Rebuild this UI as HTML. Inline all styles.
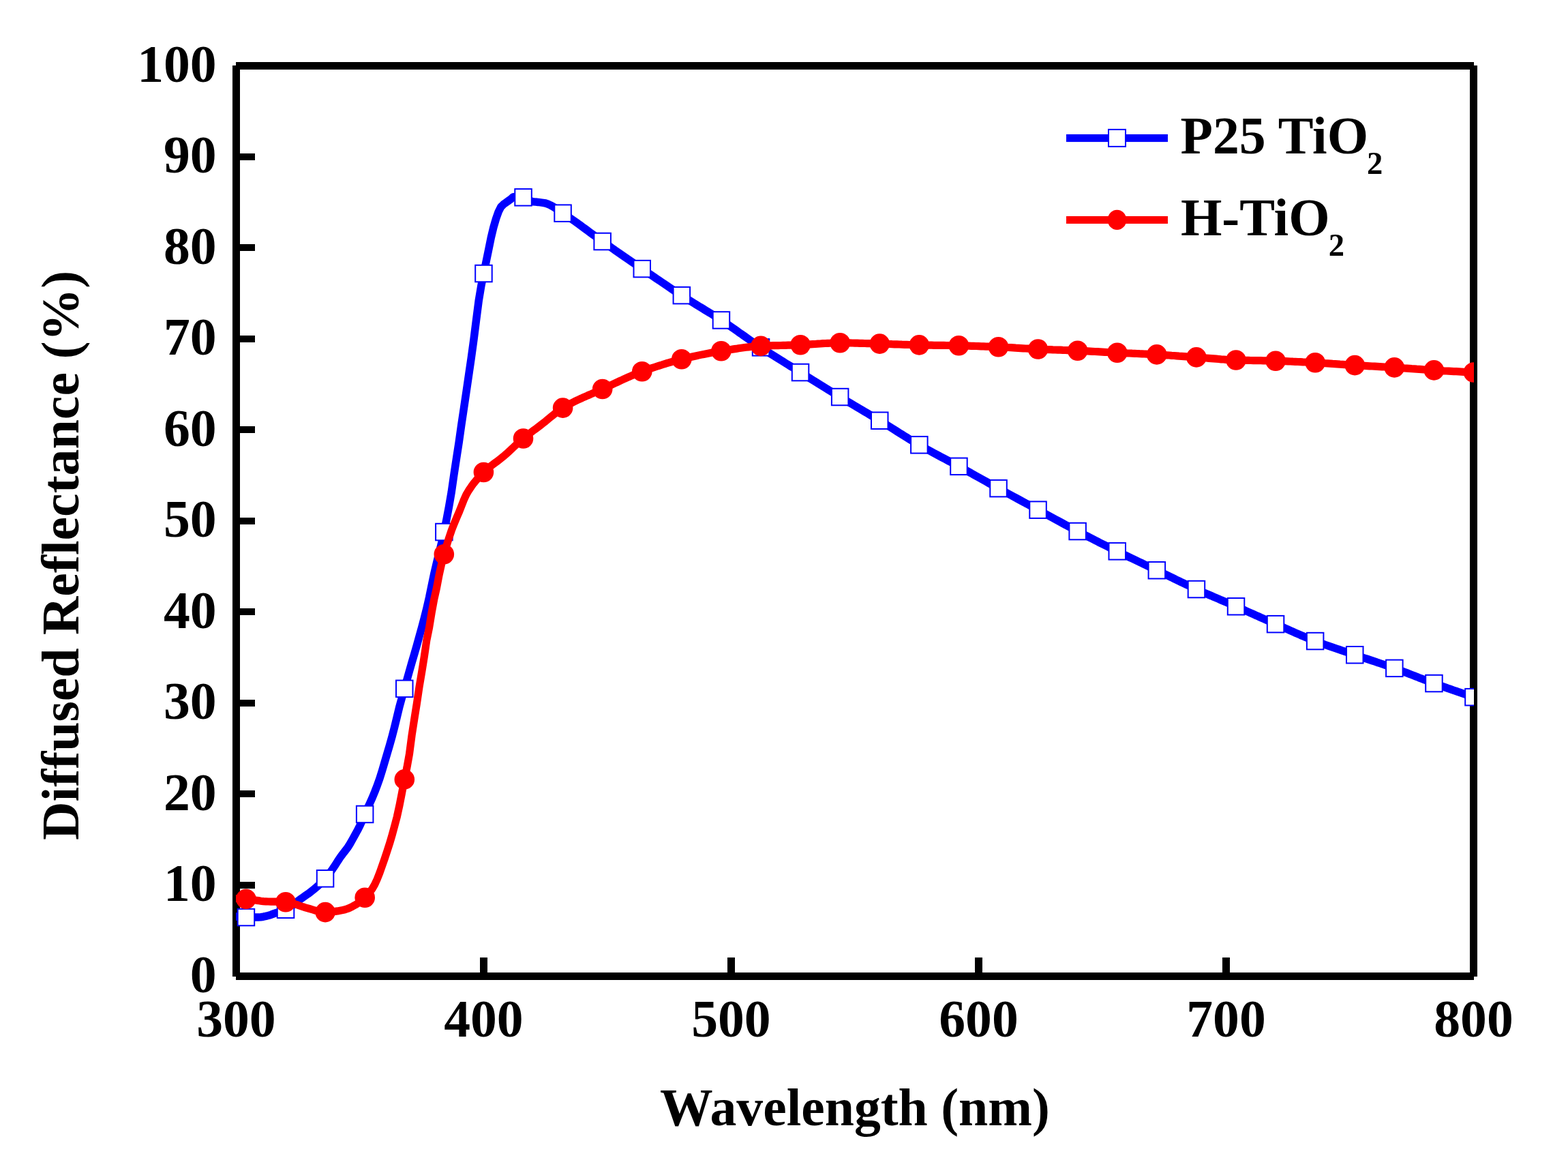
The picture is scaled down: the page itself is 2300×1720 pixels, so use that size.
<!DOCTYPE html>
<html><head><meta charset="utf-8"><title>Diffused Reflectance</title>
<style>html,body{margin:0;padding:0;background:#fff;}svg{display:block;}text{font-family:'Liberation Serif','Times New Roman',serif;font-weight:bold;fill:#000;}</style></head><body>
<svg width="2300" height="1720" viewBox="0 0 2300 1720">
<rect x="0" y="0" width="2300" height="1720" fill="#fff"/>
<g fill="#000" shape-rendering="crispEdges">
<rect x="346" y="91" width="1816" height="11"/>
<rect x="341" y="96" width="11" height="1336"/>
<rect x="346" y="1426" width="1816" height="11"/>
<rect x="2156" y="96" width="11" height="1336"/>
<rect x="351" y="1293" width="23" height="10"/>
<rect x="351" y="1159" width="23" height="10"/>
<rect x="351" y="1026" width="23" height="10"/>
<rect x="351" y="892" width="23" height="10"/>
<rect x="351" y="759" width="23" height="10"/>
<rect x="351" y="625" width="23" height="10"/>
<rect x="351" y="492" width="23" height="10"/>
<rect x="351" y="358" width="23" height="10"/>
<rect x="351" y="225" width="23" height="10"/>
<rect x="704" y="1404" width="11" height="23"/>
<rect x="1067" y="1404" width="11" height="23"/>
<rect x="1430" y="1404" width="11" height="23"/>
<rect x="1793" y="1404" width="11" height="23"/>
</g>
<g font-size="77.7">
<text x="317.7" y="1454.6" text-anchor="end">0</text>
<text x="317.7" y="1321.2" text-anchor="end">10</text>
<text x="317.7" y="1187.7" text-anchor="end">20</text>
<text x="317.7" y="1054.2" text-anchor="end">30</text>
<text x="317.7" y="920.7" text-anchor="end">40</text>
<text x="317.7" y="787.2" text-anchor="end">50</text>
<text x="317.7" y="653.7" text-anchor="end">60</text>
<text x="317.7" y="520.2" text-anchor="end">70</text>
<text x="317.7" y="386.7" text-anchor="end">80</text>
<text x="317.7" y="253.2" text-anchor="end">90</text>
<text x="317.7" y="119.7" text-anchor="end">100</text>
<text x="346.4" y="1520.1" text-anchor="middle">300</text>
<text x="709.4" y="1520.1" text-anchor="middle">400</text>
<text x="1072.4" y="1520.1" text-anchor="middle">500</text>
<text x="1435.5" y="1520.1" text-anchor="middle">600</text>
<text x="1798.5" y="1520.1" text-anchor="middle">700</text>
<text x="2161.5" y="1520.1" text-anchor="middle">800</text>
<text x="1254" y="1650" text-anchor="middle">Wavelength (nm)</text>
<text transform="translate(114.6,814.2) rotate(-90)" x="0" y="0" text-anchor="middle" font-size="77.9">Diffused Reflectance (%)</text>
</g>
<defs><clipPath id="pc"><rect x="346" y="96" width="1816.0" height="1336.0"/></clipPath></defs>
<g clip-path="url(#pc)">
<polyline fill="none" stroke="#0000ff" stroke-width="11.5" stroke-linejoin="round" stroke-linecap="round" points="346.4,1344.0 346.4,1344.0 350.0,1344.4 353.7,1344.7 357.3,1344.9 360.9,1345.0 364.6,1345.0 368.2,1345.0 371.8,1345.0 375.4,1344.9 379.1,1344.9 382.7,1344.7 386.3,1344.2 390.0,1343.4 393.6,1342.5 397.2,1341.4 400.9,1340.0 404.5,1338.8 408.1,1337.6 411.7,1336.5 415.4,1335.2 419.0,1333.7 422.6,1331.8 426.3,1329.4 429.9,1326.8 433.5,1323.9 437.2,1321.1 440.8,1318.4 444.4,1315.8 448.0,1313.3 451.7,1310.8 455.3,1308.1 458.9,1305.3 462.6,1302.3 466.2,1299.1 469.8,1295.7 473.5,1292.1 477.1,1288.2 480.7,1283.9 484.3,1279.1 488.0,1274.1 491.6,1268.8 495.2,1263.0 498.9,1257.4 502.5,1252.5 506.1,1247.9 509.8,1243.1 513.4,1237.4 517.0,1231.0 520.6,1224.4 524.3,1217.8 527.9,1210.7 531.5,1202.6 535.2,1193.9 538.8,1185.9 542.4,1178.1 546.1,1169.9 549.7,1161.1 553.3,1151.7 557.0,1141.4 560.6,1129.9 564.2,1117.6 567.8,1105.3 571.5,1092.9 575.1,1080.0 578.7,1066.1 582.4,1050.8 586.0,1035.9 589.6,1022.7 593.3,1009.9 596.9,996.9 600.5,984.0 604.1,971.4 607.8,958.9 611.4,946.3 615.0,933.3 618.7,920.1 622.3,906.5 625.9,892.1 629.6,876.0 633.2,858.5 636.8,841.3 640.4,825.7 644.1,811.0 647.7,796.1 651.3,780.0 655.0,761.6 658.6,742.7 662.2,721.8 665.9,696.0 669.5,672.3 673.1,649.1 676.7,623.6 680.4,598.9 684.0,574.5 687.6,549.9 691.3,524.5 694.9,498.3 698.5,469.8 702.2,441.0 705.8,419.4 709.4,401.0 713.1,383.6 716.7,366.2 720.3,348.3 723.9,333.3 727.6,320.6 731.2,310.5 734.8,303.4 738.5,299.7 742.1,297.1 745.7,294.5 749.4,291.8 753.0,288.7 756.6,288.5 760.2,288.7 763.9,289.0 767.5,289.4 771.1,290.6 774.8,292.7 778.4,294.7 782.0,295.7 785.7,296.1 789.3,296.4 792.9,296.9 796.5,297.4 800.2,298.0 803.8,299.2 807.4,300.9 811.1,302.9 814.7,305.3 818.3,307.8 822.0,310.3 825.6,312.7 829.2,315.0 832.8,317.4 836.5,319.9 840.1,322.4 843.7,324.9 847.4,327.5 851.0,330.2 854.6,332.8 858.3,335.5 861.9,338.2 865.5,340.9 869.1,343.5 872.8,346.2 876.4,348.8 880.0,351.4 883.7,354.0 887.3,356.5 890.9,359.1 894.6,361.6 898.2,364.1 901.8,366.7 905.5,369.2 909.1,371.7 912.7,374.2 916.3,376.7 920.0,379.2 923.6,381.7 927.2,384.2 930.9,386.7 934.5,389.1 938.1,391.6 941.8,394.1 945.4,396.6 949.0,399.1 952.6,401.5 956.3,404.0 959.9,406.5 963.5,409.0 967.2,411.4 970.8,413.9 974.4,416.3 978.1,418.8 981.7,421.2 985.3,423.7 988.9,426.1 992.6,428.5 996.2,430.8 999.8,433.2 1003.5,435.5 1007.1,437.8 1010.7,440.1 1014.4,442.4 1018.0,444.6 1021.6,446.9 1025.2,449.1 1028.9,451.3 1032.5,453.5 1036.1,455.8 1039.8,458.0 1043.4,460.2 1047.0,462.5 1050.7,464.8 1054.3,467.1 1057.9,469.5 1061.5,471.9 1065.2,474.3 1068.8,476.8 1072.4,479.3 1076.1,481.8 1079.7,484.3 1083.3,486.9 1087.0,489.4 1090.6,492.0 1094.2,494.5 1097.9,497.1 1101.5,499.6 1105.1,502.1 1108.7,504.6 1112.4,507.0 1116.0,509.4 1119.6,511.8 1123.3,514.1 1126.9,516.5 1130.5,518.8 1134.2,521.1 1137.8,523.4 1141.4,525.7 1145.0,527.9 1148.7,530.2 1152.3,532.5 1155.9,534.7 1159.6,537.0 1163.2,539.2 1166.8,541.5 1170.5,543.7 1174.1,546.0 1177.7,548.3 1181.3,550.5 1185.0,552.8 1188.6,555.1 1192.2,557.3 1195.9,559.6 1199.5,561.9 1203.1,564.1 1206.8,566.4 1210.4,568.6 1214.0,570.9 1217.6,573.1 1221.3,575.3 1224.9,577.6 1228.5,579.8 1232.2,582.0 1235.8,584.2 1239.4,586.4 1243.1,588.6 1246.7,590.7 1250.3,592.9 1254.0,595.1 1257.6,597.2 1261.2,599.4 1264.8,601.5 1268.5,603.7 1272.1,605.8 1275.7,608.0 1279.4,610.2 1283.0,612.3 1286.6,614.5 1290.3,616.7 1293.9,618.9 1297.5,621.1 1301.1,623.4 1304.8,625.7 1308.4,627.9 1312.0,630.2 1315.7,632.5 1319.3,634.8 1322.9,637.0 1326.6,639.3 1330.2,641.5 1333.8,643.8 1337.4,646.0 1341.1,648.1 1344.7,650.3 1348.3,652.4 1352.0,654.5 1355.6,656.5 1359.2,658.5 1362.9,660.5 1366.5,662.5 1370.1,664.5 1373.7,666.4 1377.4,668.4 1381.0,670.3 1384.6,672.2 1388.3,674.1 1391.9,676.1 1395.5,678.0 1399.2,680.0 1402.8,681.9 1406.4,683.9 1410.0,685.9 1413.7,687.9 1417.3,689.9 1420.9,691.9 1424.6,693.9 1428.2,696.0 1431.8,698.0 1435.5,700.0 1439.1,702.0 1442.7,704.0 1446.4,706.1 1450.0,708.1 1453.6,710.1 1457.2,712.1 1460.9,714.1 1464.5,716.1 1468.1,718.1 1471.8,720.1 1475.4,722.1 1479.0,724.0 1482.7,726.0 1486.3,728.0 1489.9,729.9 1493.5,731.9 1497.2,733.9 1500.8,735.8 1504.4,737.8 1508.1,739.7 1511.7,741.7 1515.3,743.7 1519.0,745.6 1522.6,747.6 1526.2,749.6 1529.8,751.5 1533.5,753.5 1537.1,755.5 1540.7,757.5 1544.4,759.5 1548.0,761.5 1551.6,763.4 1555.3,765.4 1558.9,767.4 1562.5,769.3 1566.1,771.3 1569.8,773.2 1573.4,775.2 1577.0,777.1 1580.7,779.0 1584.3,780.9 1587.9,782.8 1591.6,784.7 1595.2,786.5 1598.8,788.4 1602.4,790.2 1606.1,792.1 1609.7,793.9 1613.3,795.8 1617.0,797.6 1620.6,799.4 1624.2,801.2 1627.9,803.0 1631.5,804.8 1635.1,806.6 1638.8,808.4 1642.4,810.2 1646.0,811.9 1649.6,813.7 1653.3,815.5 1656.9,817.2 1660.5,818.9 1664.2,820.7 1667.8,822.4 1671.4,824.1 1675.1,825.8 1678.7,827.6 1682.3,829.3 1685.9,831.0 1689.6,832.7 1693.2,834.5 1696.8,836.2 1700.5,837.9 1704.1,839.7 1707.7,841.4 1711.4,843.2 1715.0,845.0 1718.6,846.7 1722.2,848.5 1725.9,850.3 1729.5,852.0 1733.1,853.8 1736.8,855.5 1740.4,857.2 1744.0,858.9 1747.7,860.7 1751.3,862.3 1754.9,864.0 1758.5,865.6 1762.2,867.3 1765.8,868.9 1769.4,870.5 1773.1,872.1 1776.7,873.6 1780.3,875.2 1784.0,876.8 1787.6,878.3 1791.2,879.9 1794.8,881.4 1798.5,883.0 1802.1,884.6 1805.7,886.1 1809.4,887.7 1813.0,889.3 1816.6,890.9 1820.3,892.5 1823.9,894.1 1827.5,895.7 1831.2,897.4 1834.8,899.0 1838.4,900.6 1842.0,902.2 1845.7,903.8 1849.3,905.5 1852.9,907.1 1856.6,908.7 1860.2,910.3 1863.8,911.9 1867.5,913.5 1871.1,915.1 1874.7,916.7 1878.3,918.3 1882.0,919.9 1885.6,921.5 1889.2,923.1 1892.9,924.7 1896.5,926.3 1900.1,927.9 1903.8,929.5 1907.4,931.1 1911.0,932.6 1914.6,934.2 1918.3,935.7 1921.9,937.1 1925.5,938.6 1929.2,940.0 1932.8,941.4 1936.4,942.7 1940.1,944.1 1943.7,945.4 1947.3,946.6 1950.9,947.9 1954.6,949.2 1958.2,950.4 1961.8,951.6 1965.5,952.8 1969.1,954.1 1972.7,955.3 1976.4,956.5 1980.0,957.7 1983.6,959.0 1987.3,960.2 1990.9,961.4 1994.5,962.7 1998.1,963.9 2001.8,965.1 2005.4,966.3 2009.0,967.5 2012.7,968.7 2016.3,969.9 2019.9,971.2 2023.6,972.4 2027.2,973.6 2030.8,974.8 2034.4,976.1 2038.1,977.3 2041.7,978.6 2045.3,979.9 2049.0,981.2 2052.6,982.6 2056.2,983.9 2059.9,985.3 2063.5,986.7 2067.1,988.1 2070.7,989.5 2074.4,990.9 2078.0,992.3 2081.6,993.8 2085.3,995.2 2088.9,996.6 2092.5,997.9 2096.2,999.3 2099.8,1000.7 2103.4,1002.0 2107.0,1003.3 2110.7,1004.6 2114.3,1005.9 2117.9,1007.2 2121.6,1008.5 2125.2,1009.8 2128.8,1011.0 2132.5,1012.3 2136.1,1013.5 2139.7,1014.8 2143.3,1016.0 2147.0,1017.3 2150.6,1018.5 2154.2,1019.7 2157.9,1020.9 2161.5,1022.1"/>
<g fill="#fff" stroke="#0000ff" stroke-width="2">
<rect x="348.7" y="1332.8" width="24.5" height="24.5"/>
<rect x="406.8" y="1321.5" width="24.5" height="24.5"/>
<rect x="464.8" y="1276.0" width="24.5" height="24.5"/>
<rect x="522.9" y="1181.7" width="24.5" height="24.5"/>
<rect x="581.0" y="997.6" width="24.5" height="24.5"/>
<rect x="639.1" y="767.8" width="24.5" height="24.5"/>
<rect x="697.2" y="388.8" width="24.5" height="24.5"/>
<rect x="755.3" y="277.1" width="24.5" height="24.5"/>
<rect x="813.3" y="300.4" width="24.5" height="24.5"/>
<rect x="871.4" y="341.8" width="24.5" height="24.5"/>
<rect x="929.5" y="381.9" width="24.5" height="24.5"/>
<rect x="987.6" y="420.9" width="24.5" height="24.5"/>
<rect x="1045.7" y="457.2" width="24.5" height="24.5"/>
<rect x="1103.8" y="497.1" width="24.5" height="24.5"/>
<rect x="1161.8" y="533.8" width="24.5" height="24.5"/>
<rect x="1219.9" y="569.8" width="24.5" height="24.5"/>
<rect x="1278.0" y="604.5" width="24.5" height="24.5"/>
<rect x="1336.1" y="640.1" width="24.5" height="24.5"/>
<rect x="1394.2" y="671.6" width="24.5" height="24.5"/>
<rect x="1452.3" y="703.9" width="24.5" height="24.5"/>
<rect x="1510.3" y="735.4" width="24.5" height="24.5"/>
<rect x="1568.4" y="766.8" width="24.5" height="24.5"/>
<rect x="1626.5" y="796.1" width="24.5" height="24.5"/>
<rect x="1684.6" y="824.0" width="24.5" height="24.5"/>
<rect x="1742.7" y="851.8" width="24.5" height="24.5"/>
<rect x="1800.8" y="877.0" width="24.5" height="24.5"/>
<rect x="1858.8" y="902.9" width="24.5" height="24.5"/>
<rect x="1916.9" y="927.8" width="24.5" height="24.5"/>
<rect x="1975.0" y="948.0" width="24.5" height="24.5"/>
<rect x="2033.1" y="967.6" width="24.5" height="24.5"/>
<rect x="2091.2" y="989.8" width="24.5" height="24.5"/>
<rect x="2149.2" y="1009.9" width="24.5" height="24.5"/>
</g>
<polyline fill="none" stroke="#ff0000" stroke-width="11.2" stroke-linejoin="round" stroke-linecap="round" points="346.4,1317.5 346.4,1317.5 350.0,1317.6 353.7,1317.8 357.3,1318.0 360.9,1318.2 364.6,1318.5 368.2,1319.0 371.8,1319.5 375.4,1320.1 379.1,1320.6 382.7,1321.2 386.3,1321.6 390.0,1321.8 393.6,1322.0 397.2,1322.1 400.9,1322.2 404.5,1322.2 408.1,1322.3 411.7,1322.4 415.4,1322.5 419.0,1322.7 422.6,1323.1 426.3,1323.8 429.9,1324.8 433.5,1326.0 437.2,1327.2 440.8,1328.5 444.4,1329.7 448.0,1330.8 451.7,1331.8 455.3,1332.9 458.9,1334.0 462.6,1335.1 466.2,1336.1 469.8,1336.9 473.5,1337.4 477.1,1337.6 480.7,1337.5 484.3,1337.3 488.0,1336.9 491.6,1336.4 495.2,1335.9 498.9,1335.2 502.5,1334.5 506.1,1333.7 509.8,1332.5 513.4,1331.0 517.0,1329.2 520.6,1327.2 524.3,1324.9 527.9,1322.3 531.5,1319.4 535.2,1316.2 538.8,1312.6 542.4,1308.2 546.1,1303.1 549.7,1296.9 553.3,1289.0 557.0,1279.6 560.6,1269.4 564.2,1259.1 567.8,1248.3 571.5,1236.8 575.1,1224.6 578.7,1211.4 582.4,1197.3 586.0,1180.7 589.6,1162.3 593.3,1142.9 596.9,1125.4 600.5,1105.5 604.1,1078.0 607.8,1054.2 611.4,1031.5 615.0,1007.2 618.7,985.3 622.3,962.9 625.9,938.3 629.6,920.1 633.2,898.0 636.8,878.4 640.4,862.5 644.1,843.0 647.7,826.8 651.3,812.7 655.0,800.2 658.6,788.7 662.2,778.1 665.9,768.5 669.5,759.9 673.1,751.6 676.7,742.5 680.4,733.0 684.0,725.1 687.6,719.0 691.3,713.6 694.9,708.6 698.5,704.2 702.2,700.0 705.8,696.2 709.4,692.5 713.1,689.1 716.7,686.0 720.3,683.1 723.9,680.3 727.6,677.7 731.2,675.0 734.8,672.2 738.5,669.2 742.1,666.1 745.7,662.8 749.4,659.4 753.0,656.0 756.6,652.7 760.2,649.3 763.9,646.1 767.5,643.0 771.1,640.0 774.8,637.2 778.4,634.4 782.0,631.6 785.7,628.9 789.3,626.2 792.9,623.5 796.5,620.7 800.2,617.8 803.8,614.8 807.4,611.8 811.1,608.8 814.7,605.9 818.3,603.1 822.0,600.5 825.6,598.1 829.2,596.0 832.8,593.9 836.5,592.0 840.1,590.1 843.7,588.3 847.4,586.5 851.0,584.9 854.6,583.2 858.3,581.6 861.9,580.0 865.5,578.5 869.1,576.9 872.8,575.3 876.4,573.8 880.0,572.1 883.7,570.5 887.3,568.8 890.9,567.1 894.6,565.4 898.2,563.7 901.8,562.0 905.5,560.3 909.1,558.6 912.7,557.0 916.3,555.3 920.0,553.7 923.6,552.1 927.2,550.5 930.9,549.0 934.5,547.6 938.1,546.2 941.8,544.8 945.4,543.5 949.0,542.2 952.6,540.9 956.3,539.7 959.9,538.5 963.5,537.3 967.2,536.1 970.8,535.0 974.4,533.8 978.1,532.7 981.7,531.7 985.3,530.6 988.9,529.6 992.6,528.7 996.2,527.7 999.8,526.8 1003.5,525.9 1007.1,525.0 1010.7,524.2 1014.4,523.3 1018.0,522.5 1021.6,521.7 1025.2,520.9 1028.9,520.1 1032.5,519.4 1036.1,518.7 1039.8,518.0 1043.4,517.3 1047.0,516.6 1050.7,516.0 1054.3,515.4 1057.9,514.8 1061.5,514.2 1065.2,513.6 1068.8,513.1 1072.4,512.5 1076.1,511.9 1079.7,511.4 1083.3,510.8 1087.0,510.3 1090.6,509.8 1094.2,509.3 1097.9,508.9 1101.5,508.5 1105.1,508.2 1108.7,507.9 1112.4,507.6 1116.0,507.4 1119.6,507.2 1123.3,507.1 1126.9,507.0 1130.5,506.8 1134.2,506.7 1137.8,506.6 1141.4,506.6 1145.0,506.5 1148.7,506.4 1152.3,506.3 1155.9,506.2 1159.6,506.1 1163.2,506.0 1166.8,505.9 1170.5,505.8 1174.1,505.7 1177.7,505.5 1181.3,505.4 1185.0,505.2 1188.6,504.9 1192.2,504.7 1195.9,504.5 1199.5,504.2 1203.1,504.0 1206.8,503.7 1210.4,503.5 1214.0,503.3 1217.6,503.2 1221.3,503.0 1224.9,502.9 1228.5,502.8 1232.2,502.8 1235.8,502.8 1239.4,502.8 1243.1,502.9 1246.7,502.9 1250.3,503.0 1254.0,503.1 1257.6,503.2 1261.2,503.3 1264.8,503.4 1268.5,503.5 1272.1,503.6 1275.7,503.7 1279.4,503.8 1283.0,503.9 1286.6,504.0 1290.3,504.1 1293.9,504.2 1297.5,504.3 1301.1,504.4 1304.8,504.5 1308.4,504.7 1312.0,504.8 1315.7,504.9 1319.3,505.0 1322.9,505.2 1326.6,505.3 1330.2,505.4 1333.8,505.5 1337.4,505.6 1341.1,505.7 1344.7,505.8 1348.3,505.9 1352.0,506.0 1355.6,506.0 1359.2,506.1 1362.9,506.2 1366.5,506.2 1370.1,506.3 1373.7,506.3 1377.4,506.3 1381.0,506.4 1384.6,506.4 1388.3,506.5 1391.9,506.5 1395.5,506.6 1399.2,506.7 1402.8,506.7 1406.4,506.8 1410.0,506.9 1413.7,507.0 1417.3,507.1 1420.9,507.2 1424.6,507.3 1428.2,507.4 1431.8,507.5 1435.5,507.6 1439.1,507.8 1442.7,507.9 1446.4,508.1 1450.0,508.2 1453.6,508.3 1457.2,508.5 1460.9,508.6 1464.5,508.8 1468.1,509.0 1471.8,509.1 1475.4,509.3 1479.0,509.5 1482.7,509.7 1486.3,509.9 1489.9,510.2 1493.5,510.4 1497.2,510.6 1500.8,510.8 1504.4,511.0 1508.1,511.2 1511.7,511.5 1515.3,511.6 1519.0,511.8 1522.6,512.0 1526.2,512.2 1529.8,512.3 1533.5,512.5 1537.1,512.6 1540.7,512.7 1544.4,512.9 1548.0,513.0 1551.6,513.1 1555.3,513.2 1558.9,513.4 1562.5,513.5 1566.1,513.6 1569.8,513.8 1573.4,513.9 1577.0,514.0 1580.7,514.2 1584.3,514.4 1587.9,514.5 1591.6,514.7 1595.2,514.9 1598.8,515.1 1602.4,515.3 1606.1,515.5 1609.7,515.7 1613.3,515.9 1617.0,516.1 1620.6,516.3 1624.2,516.5 1627.9,516.6 1631.5,516.8 1635.1,517.0 1638.8,517.2 1642.4,517.4 1646.0,517.5 1649.6,517.7 1653.3,517.9 1656.9,518.0 1660.5,518.2 1664.2,518.3 1667.8,518.5 1671.4,518.7 1675.1,518.8 1678.7,519.0 1682.3,519.2 1685.9,519.3 1689.6,519.5 1693.2,519.7 1696.8,519.9 1700.5,520.1 1704.1,520.3 1707.7,520.6 1711.4,520.8 1715.0,521.0 1718.6,521.3 1722.2,521.5 1725.9,521.8 1729.5,522.1 1733.1,522.3 1736.8,522.6 1740.4,522.9 1744.0,523.1 1747.7,523.4 1751.3,523.6 1754.9,523.9 1758.5,524.2 1762.2,524.4 1765.8,524.7 1769.4,525.0 1773.1,525.3 1776.7,525.6 1780.3,525.9 1784.0,526.2 1787.6,526.5 1791.2,526.8 1794.8,527.0 1798.5,527.3 1802.1,527.5 1805.7,527.7 1809.4,527.9 1813.0,528.0 1816.6,528.1 1820.3,528.2 1823.9,528.3 1827.5,528.4 1831.2,528.4 1834.8,528.5 1838.4,528.6 1842.0,528.6 1845.7,528.7 1849.3,528.7 1852.9,528.8 1856.6,528.9 1860.2,528.9 1863.8,529.0 1867.5,529.1 1871.1,529.2 1874.7,529.3 1878.3,529.4 1882.0,529.6 1885.6,529.7 1889.2,529.8 1892.9,530.0 1896.5,530.2 1900.1,530.3 1903.8,530.5 1907.4,530.7 1911.0,530.9 1914.6,531.0 1918.3,531.2 1921.9,531.4 1925.5,531.6 1929.2,531.8 1932.8,532.0 1936.4,532.2 1940.1,532.4 1943.7,532.7 1947.3,532.9 1950.9,533.1 1954.6,533.4 1958.2,533.6 1961.8,533.9 1965.5,534.2 1969.1,534.4 1972.7,534.7 1976.4,534.9 1980.0,535.1 1983.6,535.4 1987.3,535.6 1990.9,535.8 1994.5,536.0 1998.1,536.2 2001.8,536.4 2005.4,536.6 2009.0,536.8 2012.7,537.0 2016.3,537.2 2019.9,537.4 2023.6,537.6 2027.2,537.8 2030.8,538.0 2034.4,538.2 2038.1,538.5 2041.7,538.7 2045.3,538.9 2049.0,539.1 2052.6,539.4 2056.2,539.6 2059.9,539.9 2063.5,540.1 2067.1,540.4 2070.7,540.7 2074.4,540.9 2078.0,541.2 2081.6,541.4 2085.3,541.7 2088.9,542.0 2092.5,542.2 2096.2,542.4 2099.8,542.7 2103.4,542.9 2107.0,543.1 2110.7,543.3 2114.3,543.5 2117.9,543.8 2121.6,544.0 2125.2,544.2 2128.8,544.4 2132.5,544.6 2136.1,544.7 2139.7,544.9 2143.3,545.1 2147.0,545.3 2150.6,545.5 2154.2,545.7 2157.9,545.8 2161.5,546.0"/>
<g fill="#ff0000">
<circle cx="360.9" cy="1318.2" r="14.8"/>
<circle cx="419.0" cy="1322.7" r="14.8"/>
<circle cx="477.1" cy="1337.6" r="14.8"/>
<circle cx="535.2" cy="1316.2" r="14.8"/>
<circle cx="593.3" cy="1142.9" r="14.8"/>
<circle cx="651.3" cy="812.7" r="14.8"/>
<circle cx="709.4" cy="692.5" r="14.8"/>
<circle cx="767.5" cy="643.0" r="14.8"/>
<circle cx="825.6" cy="598.1" r="14.8"/>
<circle cx="883.7" cy="570.5" r="14.8"/>
<circle cx="941.8" cy="544.8" r="14.8"/>
<circle cx="999.8" cy="526.8" r="14.8"/>
<circle cx="1057.9" cy="514.8" r="14.8"/>
<circle cx="1116.0" cy="507.4" r="14.8"/>
<circle cx="1174.1" cy="505.7" r="14.8"/>
<circle cx="1232.2" cy="502.8" r="14.8"/>
<circle cx="1290.3" cy="504.1" r="14.8"/>
<circle cx="1348.3" cy="505.9" r="14.8"/>
<circle cx="1406.4" cy="506.8" r="14.8"/>
<circle cx="1464.5" cy="508.8" r="14.8"/>
<circle cx="1522.6" cy="512.0" r="14.8"/>
<circle cx="1580.7" cy="514.2" r="14.8"/>
<circle cx="1638.8" cy="517.2" r="14.8"/>
<circle cx="1696.8" cy="519.9" r="14.8"/>
<circle cx="1754.9" cy="523.9" r="14.8"/>
<circle cx="1813.0" cy="528.0" r="14.8"/>
<circle cx="1871.1" cy="529.2" r="14.8"/>
<circle cx="1929.2" cy="531.8" r="14.8"/>
<circle cx="1987.3" cy="535.6" r="14.8"/>
<circle cx="2045.3" cy="538.9" r="14.8"/>
<circle cx="2103.4" cy="542.9" r="14.8"/>
<circle cx="2161.5" cy="546.0" r="14.8"/>
</g>
</g>
<rect x="1564" y="196.9" width="149" height="11.2" fill="#0000ff"/>
<rect x="1626" y="189.9" width="25" height="25" fill="#fff" stroke="#0000ff" stroke-width="2"/>
<rect x="1564" y="317" width="149" height="11" fill="#ff0000"/>
<ellipse cx="1638.5" cy="322.4" rx="13.8" ry="14.6" fill="#ff0000"/>
<g font-size="77.7">
<text x="1731.5" y="225.2">P25 TiO<tspan font-size="46.6" dx="-2" dy="30">2</tspan></text>
<text x="1731.9" y="344.6">H-TiO<tspan font-size="46.6" dx="-2" dy="30.4">2</tspan></text>
</g>
</svg></body></html>
